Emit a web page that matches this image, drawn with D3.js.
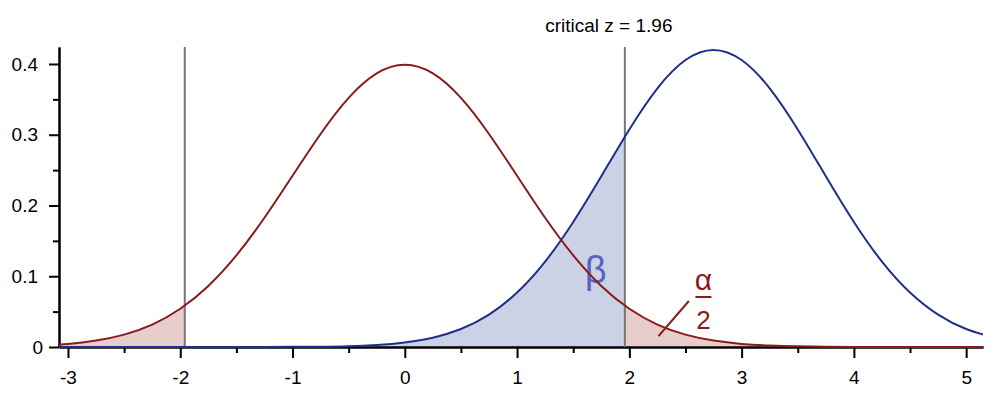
<!DOCTYPE html>
<meta charset="utf-8">
<script src="https://d3js.org/d3.v7.min.js"></script>
<style>
body { margin:0; background:#fff; }
svg { display:block; font-family:"Liberation Sans", Arial, sans-serif; }
.axis path, .axis line { stroke:#000; stroke-width:2px; }
.axis text { font-size:19px; fill:#000; font-family:"Liberation Sans", Arial, sans-serif; }
.crit { stroke:#777; stroke-width:2px; }
.null-line { fill:none; stroke:#8b1a1a; stroke-width:2px; }
.alt-line { fill:none; stroke:#1f2f8c; stroke-width:2px; }
.null-area { fill:#e8cdcd; }
.alt-area { fill:#ccd2e6; }
</style>
<body></body>
<script>

// z positions the densities are read at
var zValues = [-3.25,-3,-2.75,-2.5,-2.25,-2,-1.75,-1.5,-1.25,-1,-0.75,-0.5,-0.25,0,
  0.25,0.5,0.75,1,1.25,1.5,1.75,2,2.25,2.5,2.75,3,3.25,3.5,3.75,4,4.25,4.5,4.75,5,5.25];

// null distribution (red), height of curve at each z
var nullDensity = [0.0020,0.0044,0.0091,0.0175,0.0317,0.0540,0.0863,0.1295,0.1826,0.2420,0.3011,0.3521,0.3867,0.3989,
  0.3867,0.3521,0.3011,0.2420,0.1826,0.1295,0.0863,0.0540,0.0317,0.0175,0.0091,0.0044,0.0020,0.0009,0.0004,0.0001,0,0,0,0,0];

// alternative distribution (blue)
var altDensity = [0,0,0,0,0,0,0,0,0.0001,0.0002,0.0005,0.0012,0.0029,0.0064,
  0.0132,0.0254,0.0458,0.0770,0.1207,0.1767,0.2413,0.3075,0.3656,0.4056,0.4199,0.4056,0.3656,0.3075,0.2413,0.1767,0.1207,0.0770,0.0458,0.0254,0.0132];

var criticalZ = 1.96;
var xTicks = [-3,-2,-1,0,1,2,3,4,5];
var xMinorTicks = [-2.5,-1.5,-0.5,0.5,1.5,2.5,3.5,4.5];
var yTicks = [0,0.1,0.2,0.3,0.4];
var yMinorTicks = [0.05,0.15,0.25,0.35];

var width = 1005, height = 407;

var svg = d3.select("body").append("svg")
  .attr("width", width)
  .attr("height", height);

var x = d3.scaleLinear().domain([-3.08, 5.15]).range([59, 983]);
var y = d3.scaleLinear().domain([0, 0.424]).range([347, 47]);

var nullData = zValues.map(function(z, i) { return {z: z, d: nullDensity[i]}; });
var altData = zValues.map(function(z, i) { return {z: z, d: altDensity[i]}; });

var defs = svg.append("defs");
function clipRect(id, x0, x1) {
  defs.append("clipPath").attr("id", id).append("rect")
    .attr("x", x(x0)).attr("y", 0)
    .attr("width", x(x1) - x(x0)).attr("height", height);
}
clipRect("plot", -3.08, 5.15);
clipRect("left-tail", -3.08, -criticalZ);
clipRect("right-tail", criticalZ, 5.15);
clipRect("beta", -3.08, criticalZ);

var area = d3.area()
  .x(function(d) { return x(d.z); })
  .y0(y(0))
  .y1(function(d) { return y(d.d); })
  .curve(d3.curveNatural);

var line = d3.line()
  .x(function(d) { return x(d.z); })
  .y(function(d) { return y(d.d); })
  .curve(d3.curveNatural);

// shaded regions
svg.append("path").datum(altData).attr("class", "alt-area")
  .attr("clip-path", "url(#beta)").attr("d", area);
svg.append("path").datum(nullData).attr("class", "null-area")
  .attr("clip-path", "url(#left-tail)").attr("d", area);
svg.append("path").datum(nullData).attr("class", "null-area")
  .attr("clip-path", "url(#right-tail)").attr("d", area);

// axes
svg.append("g").attr("class", "axis")
  .attr("transform", "translate(0," + y(0) + ")")
  .call(d3.axisBottom(x).tickValues(xMinorTicks).tickSize(6).tickSizeOuter(0).tickFormat(""));
svg.append("g").attr("class", "axis")
  .attr("transform", "translate(0," + y(0) + ")")
  .call(d3.axisBottom(x).tickValues(xTicks).tickSize(11).tickSizeOuter(0).tickPadding(13)
    .tickFormat(function(d) { return String(d); }));

svg.append("g").attr("class", "axis")
  .attr("transform", "translate(" + x.range()[0] + ",0)")
  .call(d3.axisLeft(y).tickValues(yMinorTicks).tickSize(6).tickSizeOuter(0).tickFormat(""));
var yAxis = svg.append("g").attr("class", "axis")
  .attr("transform", "translate(" + x.range()[0] + ",0)")
  .call(d3.axisLeft(y).tickValues(yTicks).tickSize(10).tickSizeOuter(0).tickPadding(11)
    .tickFormat(function(d) { return String(d); }));
yAxis.selectAll(".tick text").filter(function(d) { return d === 0; }).attr("x", -16);

// critical values
svg.selectAll(".crit").data([-criticalZ, criticalZ]).enter().append("line")
  .attr("class", "crit")
  .attr("x1", function(d) { return x(d); })
  .attr("x2", function(d) { return x(d); })
  .attr("y1", y.range()[1])
  .attr("y2", y(0));

svg.append("text")
  .attr("x", x(criticalZ) - 16)
  .attr("y", 32)
  .attr("text-anchor", "middle")
  .style("font-size", "19px")
  .text("critical z = " + criticalZ);

// beta label (curves drawn over it)
svg.append("text")
  .attr("x", x(1.70))
  .attr("y", y(0.0905))
  .attr("text-anchor", "middle")
  .style("font-size", "38px")
  .style("fill", "#5862c6")
  .text("β");

// curves
svg.append("path").datum(altData).attr("class", "alt-line")
  .attr("clip-path", "url(#plot)").attr("d", line);
svg.append("path").datum(nullData).attr("class", "null-line")
  .attr("clip-path", "url(#plot)").attr("d", line);

// alpha / 2 label with pointer
var alphaColor = "#8b1a1a";
svg.append("line")
  .attr("x1", x(2.26)).attr("y1", y(0.0155))
  .attr("x2", x(2.53)).attr("y2", y(0.065))
  .style("stroke", alphaColor).style("stroke-width", 2);

svg.append("text")
  .attr("x", x(2.66)).attr("y", y(0.0805))
  .attr("text-anchor", "middle")
  .style("font-size", "30px").style("fill", alphaColor)
  .text("α");
svg.append("line")
  .attr("x1", x(2.66) - 8).attr("x2", x(2.66) + 8)
  .attr("y1", y(0.0707)).attr("y2", y(0.0707))
  .style("stroke", alphaColor).style("stroke-width", 2);
svg.append("text")
  .attr("x", x(2.66)).attr("y", y(0.0255))
  .attr("text-anchor", "middle")
  .style("font-size", "26px").style("fill", alphaColor)
  .text("2");

</script>
